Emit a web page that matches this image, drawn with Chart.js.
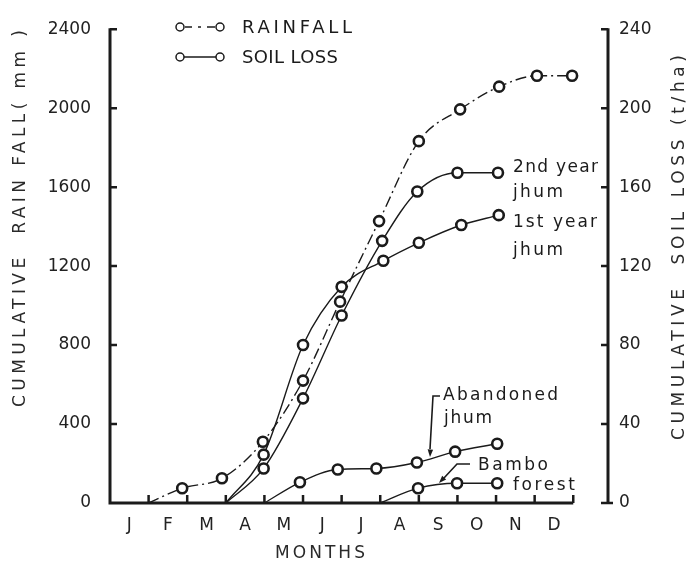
<!DOCTYPE html>
<html>
<head>
<meta charset="utf-8">
<script src="https://cdn.jsdelivr.net/npm/chart.js@4.4.0/dist/chart.umd.min.js"></script>
<style>
  html, body { margin: 0; padding: 0; background: #fff; }
  #wrap { width: 693px; height: 562px; }
</style>
</head>
<body>
<div id="wrap"><canvas id="soilChart" width="693" height="562"></canvas></div>
<script>
const months = ['J', 'F', 'M', 'A', 'M', 'J', 'J', 'A', 'S', 'O', 'N', 'D'];
const rainTicks = [0, 400, 800, 1200, 1600, 2000, 2400];
const soilTicks = [0, 40, 80, 120, 160, 200, 240];

// cumulative rainfall (mm); x = months counted from 1 Jan
const rainMonth = [1, 1.87, 2.9, 3.96, 5.0, 5.96, 6.97, 8.0, 9.07, 10.08, 11.06, 11.97];
const rainfall  = [0, 75, 125, 310, 620, 1020, 1428, 1833, 1994, 2109, 2164, 2164];

// cumulative soil loss (t/ha)
const jhum2Month = [3, 3.98, 5.0, 6.0, 7.05, 7.96, 9.0, 10.05];
const jhum2Loss  = [0, 17.5, 53, 95, 132.8, 157.8, 167.3, 167.3];
const jhum1Month = [3, 3.98, 5.0, 6.0, 7.08, 8.0, 9.1, 10.07];
const jhum1Loss  = [0, 24.5, 80, 109.5, 122.7, 131.8, 140.8, 145.8];
const abandonedMonth = [4, 4.92, 5.9, 6.9, 7.95, 8.94, 10.03];
const abandonedLoss  = [0, 10.5, 17, 17.5, 20.5, 26, 30];
const bambooMonth = [7, 7.98, 8.99, 10.03];
const bambooLoss  = [0, 7.5, 10, 10];

const ink = '#1b1b1b';
const fontFamily = '"DejaVu Sans", sans-serif';

function series(label, xs, ys, axis, dash) {
    return {
        label: label,
        yAxisID: axis,
        data: xs.map((x, i) => ({ x: x, y: ys[i] })),
        borderColor: ink,
        borderWidth: 1.4,
        borderDash: dash || [],
        cubicInterpolationMode: 'monotone',
        pointRadius: ys.map(v => v === 0 ? 0 : 5),
        pointBorderWidth: 2.6,
        pointBackgroundColor: '#fff',
        pointBorderColor: ink,
        fill: false
    };
}

// draw text stretched to a given width (the original lettering is widely spaced)
function spaced(ctx, text, x, y, width) {
    ctx.letterSpacing = '0px';
    const w = ctx.measureText(text).width;
    ctx.letterSpacing = ((width - w) / Math.max(text.length - 1, 1)) + 'px';
    ctx.fillText(text, x, y);
    ctx.letterSpacing = '0px';
}

function circle(ctx, x, y, r) {
    ctx.beginPath();
    ctx.arc(x, y, r, 0, Math.PI * 2);
    ctx.fillStyle = '#fff';
    ctx.fill();
    ctx.stroke();
}

function arrowHead(ctx, fx, fy, tx, ty) {
    const a = Math.atan2(ty - fy, tx - fx);
    ctx.beginPath();
    ctx.moveTo(tx, ty);
    ctx.lineTo(tx - 8 * Math.cos(a - 0.35), ty - 8 * Math.sin(a - 0.35));
    ctx.lineTo(tx - 8 * Math.cos(a + 0.35), ty - 8 * Math.sin(a + 0.35));
    ctx.closePath();
    ctx.fillStyle = ink;
    ctx.fill();
}

const paperAxes = {
    id: 'paperAxes',
    afterDraw(chart) {
        const ctx = chart.ctx;
        const { x, y, y2 } = chart.scales;
        const x0 = x.getPixelForValue(0);
        const x12 = x.getPixelForValue(12);
        const xr = chart.chartArea.right;
        const yb = y.getPixelForValue(0);
        const yt = y.getPixelForValue(2400);

        ctx.save();
        ctx.strokeStyle = ink;
        ctx.lineWidth = 3;
        ctx.beginPath();
        ctx.moveTo(x0, yt - 1); ctx.lineTo(x0, yb); ctx.lineTo(x12, yb);
        ctx.moveTo(xr, yt - 1); ctx.lineTo(xr, yb + 1);
        ctx.stroke();

        // inward tick marks
        ctx.lineWidth = 2.5;
        ctx.beginPath();
        rainTicks.slice(1).forEach(v => {
            const p = y.getPixelForValue(v);
            ctx.moveTo(x0, p); ctx.lineTo(x0 + 7, p);
        });
        soilTicks.forEach(v => {
            const p = y2.getPixelForValue(v);
            ctx.moveTo(xr - 7, p); ctx.lineTo(xr, p);
        });
        ctx.moveTo(xr, yb); ctx.lineTo(xr + 5, yb);
        for (let m = 1; m <= 12; m++) {
            const p = x.getPixelForValue(m);
            ctx.moveTo(p, yb); ctx.lineTo(p, yb - 8);
        }
        ctx.stroke();

        // legend
        ctx.lineWidth = 1.5;
        ctx.beginPath();
        ctx.moveTo(185, 27); ctx.lineTo(192, 27);
        ctx.moveTo(198, 27); ctx.lineTo(201, 27);
        ctx.moveTo(207, 27); ctx.lineTo(215, 27);
        ctx.moveTo(184, 57); ctx.lineTo(216, 57);
        ctx.stroke();
        [[180, 27], [220, 27], [180, 57], [220, 57]].forEach(c => circle(ctx, c[0], c[1], 4));

        ctx.fillStyle = ink;
        ctx.textAlign = 'left';
        ctx.textBaseline = 'alphabetic';
        ctx.font = '18px ' + fontFamily;
        spaced(ctx, 'RAINFALL', 242, 33, 110);
        spaced(ctx, 'SOIL LOSS', 242, 63, 96);

        // curve labels
        ctx.font = '17px ' + fontFamily;
        spaced(ctx, '2nd year', 513, 172, 85);
        spaced(ctx, 'jhum', 513, 197, 50);
        spaced(ctx, '1st year', 513, 227, 84);
        spaced(ctx, 'jhum', 513, 255, 50);
        spaced(ctx, 'Abandoned', 443, 400, 115);
        spaced(ctx, 'jhum', 444, 423, 48);
        spaced(ctx, 'Bambo', 478, 470, 70);
        spaced(ctx, 'forest', 513, 490, 62);

        // pointer arrows
        ctx.lineWidth = 1.6;
        ctx.beginPath();
        ctx.moveTo(440, 396); ctx.lineTo(433, 396); ctx.lineTo(430, 449);
        ctx.moveTo(470, 464); ctx.lineTo(457, 464); ctx.lineTo(444, 478);
        ctx.stroke();
        arrowHead(ctx, 433, 396, 430, 457);
        arrowHead(ctx, 457, 464, 439, 483);

        // axis titles
        ctx.font = '17px ' + fontFamily;
        ctx.fillStyle = '#2a2a2a';
        ctx.textBaseline = 'middle';
        ctx.save();
        ctx.translate(21, 407);
        ctx.rotate(-Math.PI / 2);
        spaced(ctx, 'CUMULATIVE  RAIN FALL( mm )', 0, 0, 377);
        ctx.restore();
        ctx.save();
        ctx.translate(680, 440);
        ctx.rotate(-Math.PI / 2);
        spaced(ctx, 'CUMULATIVE  SOIL LOSS (t/ha)', 0, 0, 385);
        ctx.restore();
        spaced(ctx, 'MONTHS', 275, 554, 90);
        ctx.restore();
    }
};

const tickFont = { family: fontFamily, size: 17 };

new Chart(document.getElementById('soilChart'), {
    type: 'line',
    data: {
        datasets: [
            series('Rainfall', rainMonth, rainfall, 'y', [11, 4, 2, 4]),
            series('2nd year jhum', jhum2Month, jhum2Loss, 'y2'),
            series('1st year jhum', jhum1Month, jhum1Loss, 'y2'),
            series('Abandoned jhum', abandonedMonth, abandonedLoss, 'y2'),
            series('Bambo forest', bambooMonth, bambooLoss, 'y2')
        ]
    },
    options: {
        responsive: false,
        animation: false,
        layout: { padding: { top: 24, left: 0, right: 0, bottom: 0 } },
        scales: {
            x: {
                type: 'linear',
                min: 0,
                max: 12.9,
                grid: { display: false, drawTicks: false },
                border: { display: false },
                afterBuildTicks: scale => {
                    scale.ticks = months.map((m, i) => ({ value: i + 0.5 }));
                },
                afterFit: scale => { scale.height = 59; },
                ticks: {
                    autoSkip: false,
                    maxRotation: 0,
                    padding: 12,
                    color: '#222',
                    font: tickFont,
                    callback: (value, index) => months[index]
                }
            },
            y: {
                position: 'left',
                min: 0,
                max: 2400,
                grid: { display: false, drawTicks: false },
                border: { display: false },
                afterFit: scale => { scale.width = 110; },
                ticks: {
                    stepSize: 400,
                    padding: 19,
                    color: '#222',
                    font: tickFont,
                    callback: value => String(value)
                }
            },
            y2: {
                position: 'right',
                min: 0,
                max: 240,
                grid: { display: false, drawTicks: false },
                border: { display: false },
                afterFit: scale => { scale.width = 85; },
                ticks: {
                    stepSize: 40,
                    padding: 11,
                    color: '#222',
                    font: tickFont,
                    callback: value => String(value)
                }
            }
        },
        plugins: {
            legend: { display: false },
            tooltip: { enabled: false }
        }
    },
    plugins: [paperAxes]
});
</script>
</body>
</html>
